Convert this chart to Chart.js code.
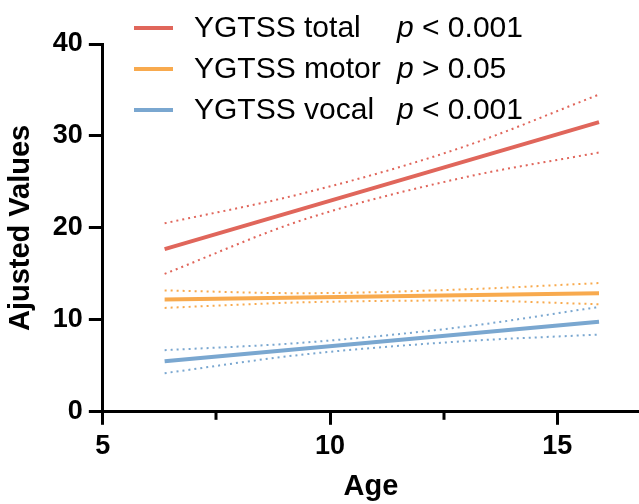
<!DOCTYPE html>
<html>
<head>
<meta charset="utf-8">
<script src="https://cdn.jsdelivr.net/npm/chart.js@4"></script>
<style>
  html, body { margin: 0; padding: 0; background: #fff; }
  #wrap { width: 639px; height: 504px; }
</style>
</head>
<body>
<div id="wrap"><canvas id="chartAge"></canvas></div>
<script>
// fitted lines (two ends) and confidence bands
var ageFit = [6.36, 15.92];
var totalFit = [17.7, 31.5];
var motorFit = [12.2, 12.9];
var vocalFit = [5.5, 9.8];

var ageBand = [6.36, 9.36, 12.87, 15.92];
var totalUpper = [20.5, 23.7, 28.7, 34.5];
var totalLower = [15.0, 20.8, 25.4, 28.2];
var motorUpper = [13.2, 12.9, 13.3, 14.0];
var motorLower = [11.3, 11.9, 12.1, 11.7];
var vocalUpper = [6.7, 7.5, 9.2, 11.4];
var vocalLower = [4.2, 6.2, 7.65, 8.4];

var seriesLabels = ['YGTSS total', 'YGTSS motor', 'YGTSS vocal'];
var pLabels = ['< 0.001', '> 0.05', '< 0.001'];
var colors = ['#E0665B', '#F8AA4E', '#7AA7D0'];

var xTicks = [5, 7.5, 10, 12.5, 15];
var xLabelled = [5, 10, 15];
var yTicks = [0, 10, 20, 30, 40];

var FONT = "'Liberation Sans', Arial, sans-serif";

function pts(xs, ys) {
  return xs.map(function (x, i) { return { x: x, y: ys[i] }; });
}

function fitLine(label, ys, color) {
  return {
    label: label,
    data: pts(ageFit, ys),
    borderColor: color,
    borderWidth: 4,
    pointRadius: 0,
    showLine: true,
    order: 0
  };
}

function band(ys, color) {
  return {
    label: '',
    data: pts(ageBand, ys),
    borderColor: color,
    borderWidth: 2,
    borderDash: [2, 4],
    pointRadius: 0,
    showLine: true,
    cubicInterpolationMode: 'monotone',
    order: 1
  };
}

// short minor ticks at 7.5 and 12.5, and the legend with p values
var extras = {
  id: 'extras',
  afterDraw: function (chart) {
    var ctx = chart.ctx;
    var xs = chart.scales.x;
    var bottom = chart.chartArea.bottom;
    ctx.save();
    ctx.strokeStyle = '#000';
    ctx.lineWidth = 3;
    [7.5, 12.5].forEach(function (v) {
      var px = Math.round(xs.getPixelForValue(v));
      ctx.beginPath();
      ctx.moveTo(px, bottom);
      ctx.lineTo(px, bottom + 8);
      ctx.stroke();
    });

    var rows = [28, 69, 110];
    ctx.textBaseline = 'middle';
    seriesLabels.forEach(function (lab, i) {
      var y = rows[i];
      ctx.strokeStyle = colors[i];
      ctx.lineWidth = 4;
      ctx.beginPath();
      ctx.moveTo(134, y);
      ctx.lineTo(173, y);
      ctx.stroke();
      ctx.fillStyle = '#000';
      ctx.font = '30px ' + FONT;
      ctx.textAlign = 'left';
      ctx.fillText(lab, 194, y + 1);
      ctx.font = 'italic 30px ' + FONT;
      ctx.fillText('p', 397, y + 1);
      var w = ctx.measureText('p ').width;
      ctx.font = '30px ' + FONT;
      ctx.fillText(pLabels[i], 397 + w, y + 1);
    });
    ctx.restore();
  }
};

function renderAgeChart() {
  var chartAge = document.getElementById('chartAge');
  if (chartAge) {
    new Chart(chartAge, {
      type: 'scatter',
      data: {
        datasets: [
          band(totalUpper, colors[0]),
          band(totalLower, colors[0]),
          band(motorUpper, colors[1]),
          band(motorLower, colors[1]),
          band(vocalUpper, colors[2]),
          band(vocalLower, colors[2]),
          fitLine(seriesLabels[0], totalFit, colors[0]),
          fitLine(seriesLabels[1], motorFit, colors[1]),
          fitLine(seriesLabels[2], vocalFit, colors[2])
        ]
      },
      options: {
        responsive: true,
        maintainAspectRatio: false,
        animation: false,
        layout: {
          padding: { top: 44, right: 0, left: 4, bottom: 0 }
        },
        plugins: {
          legend: { display: false },
          tooltip: { enabled: false }
        },
        scales: {
          x: {
            type: 'linear',
            min: 5,
            max: 16.8,
            afterBuildTicks: function (scale) {
              scale.ticks = xTicks.map(function (v) { return { value: v }; });
            },
            border: { display: true, color: '#000', width: 3 },
            grid: {
              drawOnChartArea: false,
              drawTicks: true,
              tickLength: 13,
              tickWidth: 3,
              tickColor: function (context) {
                return xLabelled.indexOf(context.tick.value) >= 0 ? '#000' : 'rgba(0,0,0,0)';
              }
            },
            ticks: {
              color: '#000',
              padding: 6,
              maxRotation: 0,
              autoSkip: false,
              font: { family: FONT, size: 27, weight: 'bold' },
              callback: function (value) {
                return xLabelled.indexOf(value) >= 0 ? String(value) : '';
              }
            },
            title: {
              display: true,
              text: 'Age',
              color: '#000',
              padding: { top: 0, bottom: 0 },
              font: { family: FONT, size: 29, weight: 'bold' }
            }
          },
          y: {
            type: 'linear',
            min: 0,
            max: 40,
            afterBuildTicks: function (scale) {
              scale.ticks = yTicks.map(function (v) { return { value: v }; });
            },
            border: { display: true, color: '#000', width: 3 },
            grid: {
              drawOnChartArea: false,
              drawTicks: true,
              tickLength: 14,
              tickWidth: 3,
              tickColor: '#000'
            },
            ticks: {
              color: '#000',
              padding: 6,
              font: { family: FONT, size: 27, weight: 'bold' }
            },
            title: {
              display: true,
              text: 'Ajusted Values',
              color: '#000',
              padding: { top: 0, bottom: 8 },
              font: { family: FONT, size: 29, weight: 'bold' }
            }
          }
        }
      },
      plugins: [extras]
    });
  }
}

renderAgeChart();
</script>
</body>
</html>
